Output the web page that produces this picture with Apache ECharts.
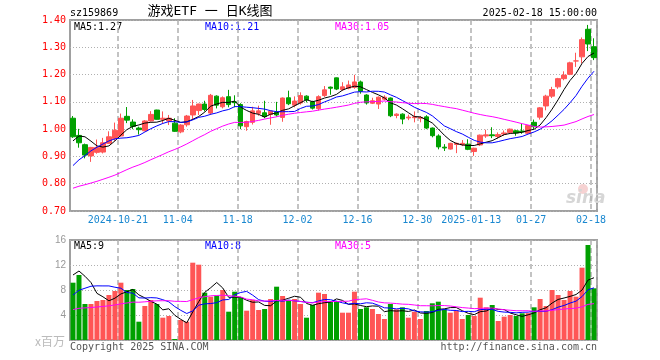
<!DOCTYPE html>
<html><head><meta charset="utf-8">
<script src="https://cdn.jsdelivr.net/npm/echarts/dist/echarts.min.js"></script>
<style>html,body{margin:0;padding:0;background:#fff}#c{width:660px;height:360px}</style>
</head><body><div id="c"></div>
<script>
// ---- data ----
const dates = [
 '2024-10-09','2024-10-10','2024-10-11','2024-10-14','2024-10-15','2024-10-16','2024-10-17','2024-10-18',
 '2024-10-21','2024-10-22','2024-10-23','2024-10-24','2024-10-25','2024-10-28','2024-10-29','2024-10-30','2024-10-31','2024-11-01',
 '2024-11-04','2024-11-05','2024-11-06','2024-11-07','2024-11-08','2024-11-11','2024-11-12','2024-11-13','2024-11-14','2024-11-15',
 '2024-11-18','2024-11-19','2024-11-20','2024-11-21','2024-11-22','2024-11-25','2024-11-26','2024-11-27','2024-11-28','2024-11-29',
 '2024-12-02','2024-12-03','2024-12-04','2024-12-05','2024-12-06','2024-12-09','2024-12-10','2024-12-11','2024-12-12','2024-12-13',
 '2024-12-16','2024-12-17','2024-12-18','2024-12-19','2024-12-20','2024-12-23','2024-12-24','2024-12-25','2024-12-26','2024-12-27',
 '2024-12-30','2024-12-31','2025-01-02','2025-01-03','2025-01-06','2025-01-07','2025-01-08','2025-01-09','2025-01-10',
 '2025-01-13','2025-01-14','2025-01-15','2025-01-16','2025-01-17','2025-01-20','2025-01-21','2025-01-22','2025-01-23','2025-01-24',
 '2025-01-27','2025-02-05','2025-02-06','2025-02-07','2025-02-10','2025-02-11','2025-02-12','2025-02-13','2025-02-14','2025-02-17','2025-02-18'
];
const open = [
 1.040,0.977,0.943,0.902,0.915,0.916,0.948,0.965,0.975,1.047,1.026,1.004,0.994,1.030,1.070,1.036,1.030,1.022,
 0.990,1.016,1.052,1.068,1.092,1.059,1.121,1.082,1.119,1.100,1.090,1.009,1.025,1.058,1.060,1.054,1.062,1.043,
 1.115,1.088,1.096,1.121,1.100,1.075,1.123,1.154,1.188,1.145,1.150,1.153,1.173,1.125,1.095,1.092,1.110,1.114,
 1.050,1.055,1.041,1.042,1.040,1.045,1.004,0.975,0.934,0.927,0.944,0.943,0.945,0.918,0.942,0.975,0.979,0.973,
 0.982,0.988,0.994,0.993,0.985,1.025,1.044,1.085,1.121,1.155,1.185,1.201,1.250,1.265,1.366,1.302
];
const close = [
 0.972,0.950,0.905,0.933,0.933,0.950,0.972,0.996,1.040,1.033,1.010,0.998,1.030,1.054,1.036,1.040,1.040,0.992,
 1.015,1.048,1.085,1.092,1.072,1.124,1.088,1.115,1.090,1.097,1.012,1.028,1.067,1.067,1.046,1.066,1.052,1.114,
 1.093,1.103,1.123,1.107,1.077,1.119,1.144,1.150,1.147,1.155,1.162,1.173,1.139,1.096,1.104,1.117,1.117,1.049,
 1.055,1.037,1.044,1.045,1.043,1.004,0.976,0.935,0.931,0.948,0.948,0.948,0.926,0.930,0.978,0.979,0.976,0.980,
 0.986,1.000,0.986,0.990,1.013,1.009,1.078,1.121,1.145,1.185,1.198,1.243,1.250,1.328,1.312,1.262
];
const low = [
 0.968,0.932,0.893,0.880,0.910,0.911,0.946,0.957,0.972,1.022,1.000,0.980,0.992,1.028,1.035,1.020,1.015,0.990,
 0.985,1.009,1.034,1.052,1.065,1.052,1.076,1.076,1.080,1.080,1.000,0.994,1.017,1.049,1.040,1.016,1.046,1.027,
 1.088,1.080,1.090,1.098,1.072,1.068,1.118,1.126,1.143,1.140,1.146,1.148,1.130,1.090,1.092,1.074,1.105,1.044,
 1.040,1.018,1.033,1.025,1.025,1.000,0.970,0.926,0.920,0.925,0.912,0.938,0.923,0.902,0.938,0.968,0.967,0.966,
 0.976,0.985,0.976,0.983,0.982,1.000,1.035,1.069,1.114,1.148,1.179,1.198,1.228,1.241,1.286,1.253
];
const high = [
 1.048,1.001,0.947,0.935,0.962,0.968,0.992,1.024,1.057,1.081,1.036,1.009,1.033,1.066,1.071,1.065,1.052,1.040,
 1.018,1.052,1.107,1.093,1.104,1.129,1.124,1.120,1.144,1.124,1.095,1.031,1.082,1.086,1.104,1.068,1.100,1.116,
 1.141,1.120,1.135,1.124,1.104,1.124,1.158,1.156,1.189,1.172,1.178,1.199,1.178,1.128,1.115,1.120,1.124,1.116,
 1.058,1.058,1.053,1.065,1.048,1.051,1.006,0.981,0.945,0.950,0.951,0.960,0.963,0.932,0.980,0.998,1.007,0.988,
 0.995,1.002,0.998,1.019,1.015,1.035,1.081,1.126,1.155,1.188,1.212,1.247,1.280,1.336,1.382,1.333
];
// volume, millions
const volume = [
 9.17,10.4,5.76,5.76,6.24,6.4,7.2,7.84,9.17,8.0,8.16,2.93,5.44,6.4,5.76,3.57,3.84,0.16,
 3.2,2.93,12.37,12.05,7.57,6.93,7.09,8.0,4.53,7.73,6.83,4.69,6.4,4.8,4.96,6.56,8.53,7.04,
 6.29,6.56,5.76,3.57,5.6,7.57,7.36,6.19,6.19,4.37,4.37,7.73,4.96,5.23,4.96,4.16,3.36,5.76,
 4.91,5.23,3.57,4.53,3.36,4.64,5.87,6.13,4.91,4.37,4.69,3.36,4.0,3.84,6.77,5.23,5.6,3.04,
 3.73,4.0,3.84,4.27,4.3,5.23,6.56,5.44,8.0,7.2,6.4,7.84,6.93,11.57,15.2,8.27
];
// 29 sessions before the window, estimated from where the MA lines start at the left edge
const priorClose = [
 0.73,0.74,0.75,0.74,0.73,0.75,0.76,0.74,0.73,0.73,
 0.76,0.76,0.75,0.75,0.75,0.74,0.74,0.73,0.73,0.73,
 0.74,0.75,0.76,0.80,0.83,0.86,0.92,1.013,1.02
];
const priorVolume = [
 4.2,3.8,4.0,3.6,3.9,4.1,3.7,3.8,4.0,3.9,
 3.6,3.4,3.8,3.5,3.3,3.6,3.2,3.4,3.7,3.5,
 2.8,2.5,2.6,5.6,6.5,7.2,9.96,10.76,14.9
];
const tickLabels = [
 ['2024-10-21','2024-10-21'],['2024-11-04','11-04'],['2024-11-18','11-18'],['2024-12-02','12-02'],
 ['2024-12-16','12-16'],['2024-12-30','12-30'],['2025-01-13','2025-01-13'],['2025-01-27','01-27'],['2025-02-18','02-18']
];
const priceTicks = [0.70,0.80,0.90,1.00,1.10,1.20,1.30,1.40];
const volTicks = [0,4,8,12,16];

// ---- build ----
function movingAvg(n, prior, arr) {
  const all = prior.concat(arr);
  return arr.map((_, i) => {
    const end = prior.length + i;
    let s = 0;
    for (let j = end - n + 1; j <= end; j++) s += all[j];
    return +(s / n).toFixed(4);
  });
}
const UP = '#ff5555', DOWN = '#00a000';
const labelMap = {}; tickLabels.forEach(t => labelMap[t[0]] = t[1]);
const tickIdx = tickLabels.map(t => dates.indexOf(t[0]));
const isTick = (i) => tickIdx.indexOf(i) >= 0;

const kData = dates.map((d, i) => [open[i], close[i], low[i], high[i]]);
const volData = volume.map((v, i) => ({value: v, itemStyle: {color: close[i] >= open[i] ? UP : DOWN}}));
const ma5 = movingAvg(5, priorClose, close), ma10 = movingAvg(10, priorClose, close), ma30 = movingAvg(30, priorClose, close);
const vma5 = movingAvg(5, priorVolume, volume), vma10 = movingAvg(10, priorVolume, volume), vma30 = movingAvg(30, priorVolume, volume);
const last = a => a[a.length - 1];
const trunc2 = v => (Math.floor(v * 100 + 1e-6) / 100).toFixed(2);

const MONO = '"DejaVu Sans Mono", "Liberation Mono", monospace';
const gridLine = {show: true, lineStyle: {color: '#b0b0b0', width: 1, type: [1, 2]}};
const vLine = {show: true, interval: (i) => isTick(i), lineStyle: {color: '#b0b0b0', width: 1.5, type: [5, 3]}};

function txt(x, y, text, fill, font, align) {
  return {type: 'text', x: x, y: y, silent: true,
    style: {text: text, fill: fill, font: font, textAlign: align || 'left', align: align || 'left', textVerticalAlign: 'middle', verticalAlign: 'middle'}};
}

const option = {
  animation: false,
  backgroundColor: '#fff',
  textStyle: {fontFamily: MONO},
  grid: [
    {left: 70, top: 20, width: 527, height: 191, show: true, borderColor: '#a0a0a0', borderWidth: 2, backgroundColor: 'transparent'},
    {left: 70, top: 240, width: 527, height: 100, show: true, borderColor: '#a0a0a0', borderWidth: 2, backgroundColor: 'transparent'}
  ],
  xAxis: [
    {type: 'category', gridIndex: 0, data: dates, boundaryGap: true,
     axisLine: {show: false}, axisTick: {show: false},
     axisLabel: {interval: (i) => isTick(i), formatter: (v) => labelMap[v] || '', color: '#1a88d0', fontFamily: MONO, fontSize: 10, margin: 4, padding: [0, 6, 0, 0]},
     splitLine: vLine},
    {type: 'category', gridIndex: 1, data: dates, boundaryGap: true,
     axisLine: {show: false}, axisTick: {show: false}, axisLabel: {show: false},
     splitLine: vLine}
  ],
  yAxis: [
    {type: 'value', gridIndex: 0, min: priceTicks[0], max: last(priceTicks), interval: 0.1,
     axisLine: {show: false}, axisTick: {show: false},
     axisLabel: {color: '#ff0000', fontFamily: MONO, fontSize: 10, margin: 4, formatter: (v) => v.toFixed(2)},
     splitLine: gridLine},
    {type: 'value', gridIndex: 1, min: volTicks[0], max: last(volTicks), interval: 4,
     axisLine: {show: false}, axisTick: {show: false},
     axisLabel: {color: '#999', fontFamily: '"Liberation Sans", Arial, sans-serif', fontSize: 10, margin: 4, formatter: (v) => v === 0 ? '' : String(v)},
     splitLine: gridLine}
  ],
  series: [
    {type: 'candlestick', xAxisIndex: 0, yAxisIndex: 0, data: kData, barWidth: 5,
     itemStyle: {color: UP, color0: DOWN, borderColor: UP, borderColor0: DOWN, borderWidth: 1}},
    {type: 'line', xAxisIndex: 0, yAxisIndex: 0, data: ma5, showSymbol: false, lineStyle: {color: '#000', width: 1}, z: 5},
    {type: 'line', xAxisIndex: 0, yAxisIndex: 0, data: ma10, showSymbol: false, lineStyle: {color: '#0000ff', width: 1}, z: 5},
    {type: 'line', xAxisIndex: 0, yAxisIndex: 0, data: ma30, showSymbol: false, lineStyle: {color: '#ff00ff', width: 1}, z: 5},
    {type: 'bar', xAxisIndex: 1, yAxisIndex: 1, data: volData, barWidth: 5},
    {type: 'line', xAxisIndex: 1, yAxisIndex: 1, data: vma5, showSymbol: false, lineStyle: {color: '#000', width: 1}, z: 5},
    {type: 'line', xAxisIndex: 1, yAxisIndex: 1, data: vma10, showSymbol: false, lineStyle: {color: '#0000ff', width: 1}, z: 5},
    {type: 'line', xAxisIndex: 1, yAxisIndex: 1, data: vma30, showSymbol: false, lineStyle: {color: '#ff00ff', width: 1}, z: 5}
  ],
  graphic: [
    txt(70, 13, 'sz159869', '#000', '10px ' + MONO),
    txt(210, 12, '游戏ETF 一 日K线图', '#000', '13px "DejaVu Sans Mono", "Noto Sans CJK SC", sans-serif', 'center'),
    txt(597, 13, '2025-02-18 15:00:00', '#000', '10px ' + MONO, 'right'),
    txt(74, 27, 'MA5:' + trunc2(last(ma5)), '#000', '10px ' + MONO),
    txt(205, 27, 'MA10:' + trunc2(last(ma10)), '#0000ff', '10px ' + MONO),
    txt(335, 27, 'MA30:' + trunc2(last(ma30)), '#ff00ff', '10px ' + MONO),
    txt(74, 246, 'MA5:' + Math.floor(last(vma5)), '#000', '10px ' + MONO),
    txt(205, 246, 'MA10:' + Math.floor(last(vma10)), '#0000ff', '10px ' + MONO),
    txt(335, 246, 'MA30:' + Math.floor(last(vma30)), '#ff00ff', '10px ' + MONO),
    txt(65, 341, 'x百万', '#bbbbbb', '12px "Noto Sans CJK SC", sans-serif', 'right'),
    txt(70, 347, 'Copyright 2025 SINA.COM', '#555', '10px ' + MONO),
    txt(597, 347, 'http://finance.sina.com.cn', '#555', '10px ' + MONO, 'right'),
    {type: 'circle', shape: {cx: 583, cy: 189, r: 5}, style: {fill: '#f6d2d2'}, silent: true},
    txt(566, 199, 'sina', '#d6d6d6', 'italic bold 17px "DejaVu Sans", sans-serif')
  ]
};
const chart = echarts.init(document.getElementById('c'), null, {renderer: 'canvas'});
chart.setOption(option);
</script></body></html>
